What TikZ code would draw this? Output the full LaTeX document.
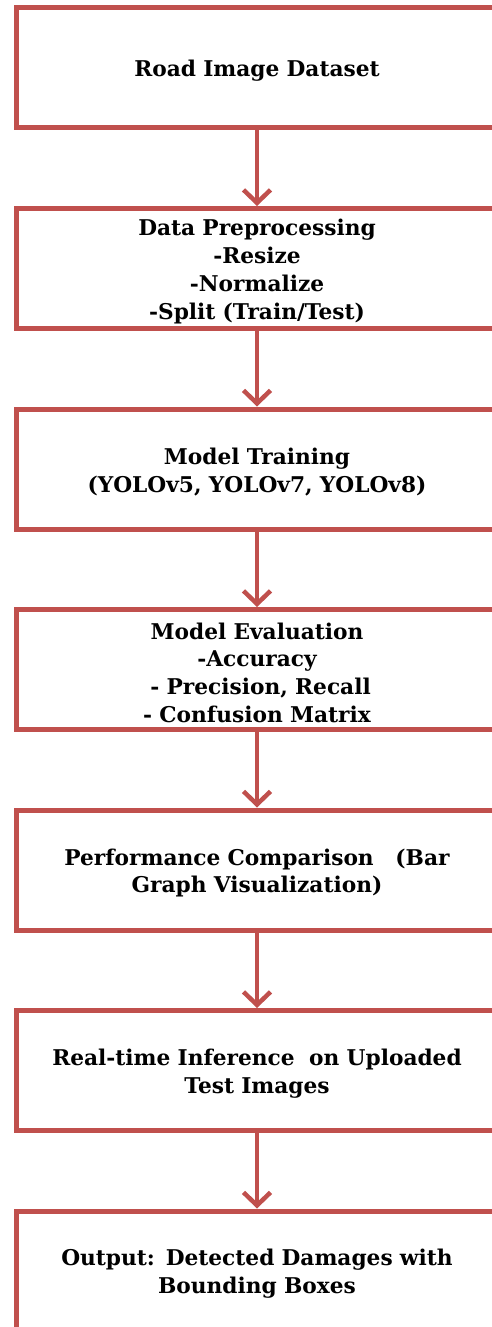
\documentclass[tikz,border=0pt]{standalone}
\usepackage{fontspec}
\setmainfont{DejaVu Serif}
\usetikzlibrary{arrows.meta}
\definecolor{boxred}{HTML}{C0504D}
\begin{document}
\begin{tikzpicture}[x=1pt,y=-1pt,
  box/.style={draw=boxred, line width=5pt, minimum width=482pt, minimum height=120pt,
    inner sep=0pt},
  txt/.style={align=center, inner sep=0pt, text width=470pt, yshift=-3pt,
    font=\fontsize{21.7}{27.7}\selectfont\bfseries},
  flow/.style={draw=boxred, line width=4.5pt,
    -{Straight Barb[length=13pt,width=27pt]}}]
\useasboundingbox (0,0) rectangle (492,1327);
\clip (0,0) rectangle (492,1327);
\node[box] (b1) at (257,68) {};
\node[box] (b2) at (257,268.5) {};
\node[box] (b3) at (257,469) {};
\node[box] (b4) at (257,669.5) {};
\node[box] (b5) at (257,870) {};
\node[box] (b6) at (257,1070.5) {};
\node[box] (b7) at (257,1271) {};
\node[txt] (t1) at (b1.center) {Road Image Dataset};
\node[txt] (t2) at (b2.center) {Data Preprocessing\\-Resize\\-Normalize\\-Split (Train/Test)};
\node[txt] (t3) at (b3.center) {Model Training\\(YOLOv5, YOLOv7, YOLOv8)};
\node[txt] (t4) at (b4.center) {Model Evaluation\\-Accuracy\\\ - Precision, Recall\\- Confusion Matrix};
\node[txt] (t5) at (b5.center) {Performance Comparison\ \ \ (Bar\\Graph Visualization)};
\node[txt] (t6) at (b6.center) {Real-time Inference\ \ on Uploaded\\Test Images};
\node[txt] (t7) at (b7.center) {Output: Detected Damages with\\Bounding Boxes};
\draw[flow] (b1.south) -- (b2.north);
\draw[flow] (b2.south) -- (b3.north);
\draw[flow] (b3.south) -- (b4.north);
\draw[flow] (b4.south) -- (b5.north);
\draw[flow] (b5.south) -- (b6.north);
\draw[flow] (b6.south) -- (b7.north);
\end{tikzpicture}
\end{document}
